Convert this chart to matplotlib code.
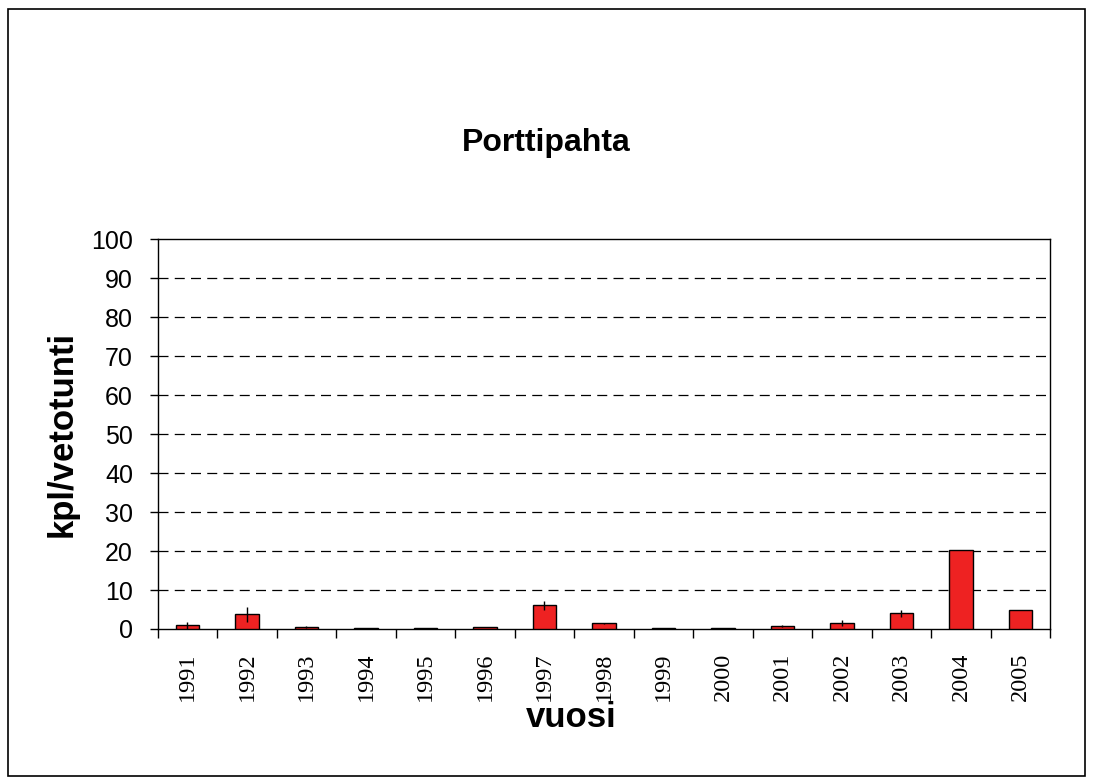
import matplotlib
matplotlib.use('Agg')
import matplotlib.pyplot as plt
import matplotlib.patches as patches
import numpy as np

years = ['1991', '1992', '1993', '1994', '1995', '1996', '1997', '1998',
         '1999', '2000', '2001', '2002', '2003', '2004', '2005']
catch = [1.0, 3.8, 0.5, 0.15, 0.15, 0.5, 6.1, 1.5, 0.2, 0.2, 0.8, 1.5, 4.1, 20.4, 4.9]
err = [0.9, 1.9, 0.3, 0.0, 0.0, 0.1, 1.2, 0.1, 0.1, 0.0, 0.3, 0.7, 0.9, 0.0, 0.0]

sans = ['Liberation Sans', 'DejaVu Sans']
serif = ['Liberation Serif', 'DejaVu Serif']

fig = plt.figure(figsize=(10.93, 7.84), dpi=100)
fig.patch.set_facecolor('white')
# outer frame of the chart
fig.patches.append(patches.Rectangle((8/1093, 1 - 776/784), 1077/1093, 767/784,
                                     transform=fig.transFigure, fill=False,
                                     edgecolor='black', linewidth=1.2))

ax = fig.add_axes([157.7/1093, 1 - 629/784, 892.5/1093, 389.7/784])
x = np.arange(len(years))
ax.bar(x, catch, width=0.4, color='#EE2222', edgecolor='black', linewidth=1.0, zorder=3)
ax.errorbar(x, catch, yerr=err, fmt='none', ecolor='black', elinewidth=1.0,
            capsize=0, zorder=4)

ax.set_xlim(-0.5, len(years) - 0.5)
ax.set_ylim(0, 100)
ax.set_yticks(np.arange(0, 101, 10))
ax.set_yticklabels([str(v) for v in range(0, 101, 10)], family=sans, fontsize=18)
for v in range(10, 100, 10):
    ax.axhline(v, color='black', linewidth=0.9, linestyle=(0, (8, 5)), zorder=1)

ax.set_xticks(x)
ax.set_xticklabels(years, rotation=90, family=serif, fontsize=17.5)
ax.set_xticks(np.arange(-0.5, len(years)), minor=True)
ax.tick_params(axis='x', which='major', length=0, pad=17)
ax.tick_params(axis='x', which='minor', length=6.5, width=1, direction='out')
ax.tick_params(axis='y', length=5.8, width=1, direction='out', pad=12)

for s in ax.spines.values():
    s.set_linewidth(1.0)
    s.set_color('black')

fig.text(546/1093, 1 - 143/784, 'Porttipahta', family=sans, fontsize=23,
         fontweight='bold', ha='center', va='center')
fig.text(62/1093, 1 - 434/784, 'kpl/vetotunti', family=sans, fontsize=25,
         fontweight='bold', ha='center', va='center', rotation=90)
fig.text(571/1093, 1 - 727/784, 'vuosi', family=sans, fontsize=25,
         fontweight='bold', ha='center', va='baseline')

fig.savefig('out.png', dpi=100)
